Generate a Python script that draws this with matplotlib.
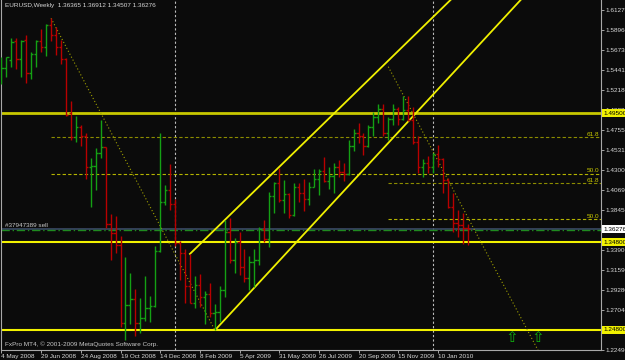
import matplotlib
matplotlib.use("Agg")
import matplotlib.pyplot as plt
import matplotlib.transforms as mtransforms
import numpy as np

plt.rcParams['font.family'] = ['Liberation Sans', 'DejaVu Sans']
FS = 4.6

# weekly EURUSD bars, 4 May 2008 .. 21 Feb 2010
opens = [1.5445, 1.5460, 1.5560, 1.5777, 1.5565, 1.5785, 1.5405, 1.5622, 1.5774, 1.5702,
         1.5956, 1.5842, 1.5702, 1.5565, 1.4950, 1.4683, 1.4790, 1.4691, 1.4334, 1.4350,
         1.4493, 1.4562, 1.3687, 1.3581, 1.3448, 1.2562, 1.2764, 1.2829, 1.2562, 1.2612,
         1.2726, 1.2753, 1.3383, 1.3942, 1.4075, 1.3915, 1.3470, 1.3353, 1.2981, 1.2790,
         1.2992, 1.2859, 1.2890, 1.2669, 1.2680, 1.2930, 1.3590, 1.3280, 1.3480, 1.3200,
         1.3070, 1.3250, 1.3280, 1.3630, 1.3520, 1.4010, 1.4150, 1.3961, 1.4030, 1.3790,
         1.4106, 1.4040, 1.3969, 1.4113, 1.4200, 1.4290, 1.4181, 1.4230, 1.4334, 1.4280,
         1.4260, 1.4577, 1.4728, 1.4690, 1.4577, 1.4790, 1.4904, 1.4995, 1.4721, 1.4881,
         1.4995, 1.4880, 1.4987, 1.4873, 1.4626, 1.4341, 1.4380, 1.4334, 1.4485, 1.4425,
         1.4189, 1.3878, 1.3700, 1.3680, 1.36365]
highs = [1.5595, 1.5595, 1.5804, 1.5804, 1.5785, 1.5842, 1.5645, 1.5785, 1.5907, 1.5967,
         1.6032, 1.5930, 1.5785, 1.5576, 1.5093, 1.4919, 1.4816, 1.4721, 1.4436, 1.4550,
         1.4873, 1.4569, 1.3798, 1.3779, 1.3551, 1.3315, 1.3132, 1.2943, 1.2840, 1.3094,
         1.2867, 1.3437, 1.4728, 1.4132, 1.4371, 1.3969, 1.3497, 1.3399, 1.3345, 1.3094,
         1.3117, 1.2920, 1.3012, 1.2775, 1.2981, 1.3733, 1.3756, 1.3525, 1.3600, 1.3399,
         1.3323, 1.3399, 1.3657, 1.3733, 1.4056, 1.4170, 1.4326, 1.4189, 1.4040, 1.4151,
         1.4150, 1.4197, 1.4170, 1.4311, 1.4311, 1.4448, 1.4334, 1.4379, 1.4417, 1.4386,
         1.4645, 1.4767, 1.4842, 1.4728, 1.4816, 1.4968, 1.5055, 1.5055, 1.4911, 1.5055,
         1.5019, 1.5147, 1.5147, 1.5019, 1.4691, 1.4425, 1.4463, 1.4493, 1.4588, 1.4440,
         1.4208, 1.4037, 1.3847, 1.3809, 1.36912]
lows = [1.5283, 1.5360, 1.5481, 1.5451, 1.5360, 1.5298, 1.5337, 1.5474, 1.5652, 1.5606,
        1.5777, 1.5614, 1.5511, 1.4919, 1.4645, 1.4626, 1.4577, 1.4197, 1.3885, 1.4075,
        1.4436, 1.3638, 1.3277, 1.3360, 1.2517, 1.2365, 1.2547, 1.2411, 1.2448, 1.2585,
        1.2574, 1.2738, 1.3372, 1.3904, 1.3847, 1.3440, 1.3049, 1.2783, 1.2783, 1.2726,
        1.2745, 1.2547, 1.2631, 1.2479, 1.2574, 1.2855, 1.3246, 1.3130, 1.3106, 1.3030,
        1.2935, 1.2973, 1.3220, 1.3486, 1.3429, 1.3809, 1.3942, 1.3816, 1.3759, 1.3780,
        1.3942, 1.3839, 1.3904, 1.4106, 1.4018, 1.4170, 1.4090, 1.4044, 1.4220, 1.4181,
        1.4250, 1.4523, 1.4614, 1.4474, 1.4570, 1.4691, 1.4835, 1.4691, 1.4645, 1.4820,
        1.4816, 1.4873, 1.4865, 1.4599, 1.4265, 1.4220, 1.4272, 1.4265, 1.4341, 1.4037,
        1.3866, 1.3600, 1.3543, 1.3459, 1.34507]
closes = [1.5460, 1.5588, 1.5759, 1.5565, 1.5777, 1.5405, 1.5622, 1.5774, 1.5702, 1.5956,
          1.5842, 1.5702, 1.5565, 1.4930, 1.4683, 1.4790, 1.4691, 1.4334, 1.4350, 1.4493,
          1.4562, 1.3687, 1.3581, 1.3448, 1.2562, 1.2764, 1.2829, 1.2562, 1.2612, 1.2726,
          1.2753, 1.3383, 1.3942, 1.4075, 1.3915, 1.3470, 1.3353, 1.2981, 1.2790, 1.2992,
          1.2859, 1.2890, 1.2669, 1.2680, 1.2930, 1.3590, 1.3280, 1.3480, 1.3200, 1.3070,
          1.3250, 1.3280, 1.3630, 1.3520, 1.4010, 1.4150, 1.3961, 1.4030, 1.3790, 1.4106,
          1.4040, 1.3969, 1.4113, 1.4200, 1.4290, 1.4181, 1.4230, 1.4334, 1.4280, 1.4260,
          1.4577, 1.4728, 1.4690, 1.4577, 1.4790, 1.4904, 1.4995, 1.4721, 1.4881, 1.4995,
          1.4880, 1.4987, 1.4873, 1.4626, 1.4341, 1.4380, 1.4334, 1.4485, 1.4425, 1.4189,
          1.3878, 1.3700, 1.3680, 1.36365, 1.36276]

date_pos = [0, 8, 16, 24, 32, 40, 48, 56, 64, 72, 80, 88]
date_labels = ["4 May 2008", "29 Jun 2008", "24 Aug 2008", "19 Oct 2008", "14 Dec 2008",
               "8 Feb 2009", "5 Apr 2009", "31 May 2009", "26 Jul 2009", "20 Sep 2009",
               "15 Nov 2009", "10 Jan 2010"]
price_ticks = [1.6127, 1.5896, 1.5673, 1.5441, 1.5218, 1.4982, 1.4755, 1.4531, 1.4300,
               1.4069, 1.3845, 1.3617, 1.3390, 1.3159, 1.2928, 1.2704, 1.2249]
separators = [35, 87]

levels = [1.4950, 1.3480, 1.2480]        # horizontal support/resistance
fib1 = [(10, 1.6032), (43, 1.2479)]      # fibo 1: high -> low
fib2 = [(78, 1.5480), (110.5, 1.2000)]   # fibo 2
chan_up = [(38, 1.3345), (74, 1.5329)]
chan_lo = [(43.25, 1.2487), (80.3, 1.4751)]
bid = 1.3630
order = 1.3617
arrows_x = [102.9, 108.2]
arrows_y = 1.2392

bg = '#0b0b0b'
fig = plt.figure(figsize=(6.25, 3.6), dpi=100, facecolor=bg)
ax = fig.add_axes([1/625, 10/360, 600/625, 350/360])
ax.set_facecolor(bg)

x = np.arange(len(opens))
up = np.array(closes) >= np.array(opens)
cols = np.where(up, '#14a014', '#b80000')
ax.vlines(x, lows, highs, colors=cols, lw=1.0, zorder=3)
ax.hlines(opens, x - 0.45, x, colors=cols, lw=1.0, zorder=3)
ax.hlines(closes, x, x + 0.45, colors=cols, lw=1.0, zorder=3)

# period separators
for s in separators:
    ax.axvline(s, color='#bdbdbd', lw=0.8, ls=(0, (2, 2)), zorder=1)

# horizontal levels
ax.axhline(levels[0], color='#c8c800', lw=2.0, zorder=2)
ax.axhline(levels[1], color='#f2f200', lw=1.5, zorder=2)
ax.axhline(levels[2], color='#f2f200', lw=1.5, zorder=2)

# bid & order line
ax.axhline(bid, color='#3a4a66', lw=1.2, zorder=2)
ax.axhline(order, color='#1f8a1f', lw=1.0, ls=(0, (6, 2, 1, 2)), zorder=2)
ax.text(0.8, bid + 0.0012, "#37947389 sell", color='#c8c8c8', fontsize=FS,
        va='bottom', ha='left', zorder=4)

# fibonacci retracements
for (xa, ya), (xb, yb) in [fib1, fib2]:
    ax.plot([xa, xb], [ya, yb], color='#a0a000', lw=0.8, ls=(0, (1, 2)), zorder=2)
    for r, c in [(0.618, '#8c8c00'), (0.5, '#b4b400')]:
        lv = yb + r * (ya - yb)
        ax.plot([xa, 125], [lv, lv], color=c, lw=0.8, ls=(0, (3, 2)), zorder=2)
        ax.text(120.6, lv + 0.0008, "61.8" if r > 0.6 else "50.0", color='#c8c800',
                fontsize=FS, ha='right', va='bottom', zorder=4)

# channel trendlines (rays to the right)
for (xa, ya), (xb, yb) in [chan_up, chan_lo]:
    k = (yb - ya) / (xb - xa)
    ax.plot([xa, 125], [ya, ya + k * (125 - xa)], color='#f0f000', lw=1.3, zorder=2)

for ax_ in arrows_x:
    ax.text(ax_, arrows_y, "\u21e7", color='#10b010', fontsize=11, ha='center', va='center',
            family='DejaVu Sans', zorder=4)

ax.text(0.8, 1.6180, "EURUSD,Weekly  1.36365 1.36912 1.34507 1.36276", color='#d8d8d8',
        fontsize=FS, ha='left', va='center', zorder=5)
ax.text(0.8, 1.2310, "FxPro MT4, \u00a9 2001-2009 MetaQuotes Software Corp.", color='#c8c8c8',
        fontsize=FS, ha='left', va='center', zorder=5)

ax.set_xlim(-0.1, 120.9)
ax.set_ylim(1.2251, 1.6241)

ax.set_yticks(price_ticks)
ax.set_yticklabels([f"{p:.5f}" for p in price_ticks])
ax.yaxis.tick_right()
ax.tick_params(axis='y', colors='#bdbdbd', labelcolor='#d8d8d8', labelsize=FS, length=2,
               pad=1.5, width=0.6)
ax.set_xticks(date_pos)
ax.set_xticklabels(date_labels)
ax.tick_params(axis='x', colors='#bdbdbd', labelcolor='#d8d8d8', labelsize=FS, length=2,
               pad=1, width=0.6)
for lbl in ax.get_xticklabels():
    lbl.set_ha('left')

for sp in ['left', 'right', 'bottom']:
    ax.spines[sp].set_color('#a8a8a8')
    ax.spines[sp].set_linewidth(0.8)
ax.spines['top'].set_visible(False)

# highlighted price labels on the scale
tr = mtransforms.blended_transform_factory(ax.transAxes, ax.transData)
for p, fc in [(1.4950, '#f0f000'), (1.3480, '#f0f000'), (1.2480, '#f0f000'), (1.36276, '#ffffff')]:
    ax.text(1.004, p, f"{p:.5f}", transform=tr, color='black', fontsize=FS, ha='left',
            va='center', zorder=6, clip_on=False,
            bbox=dict(boxstyle='square,pad=0.25', fc=fc, ec='none'))

fig.savefig("out.png", dpi=100, facecolor=bg)
